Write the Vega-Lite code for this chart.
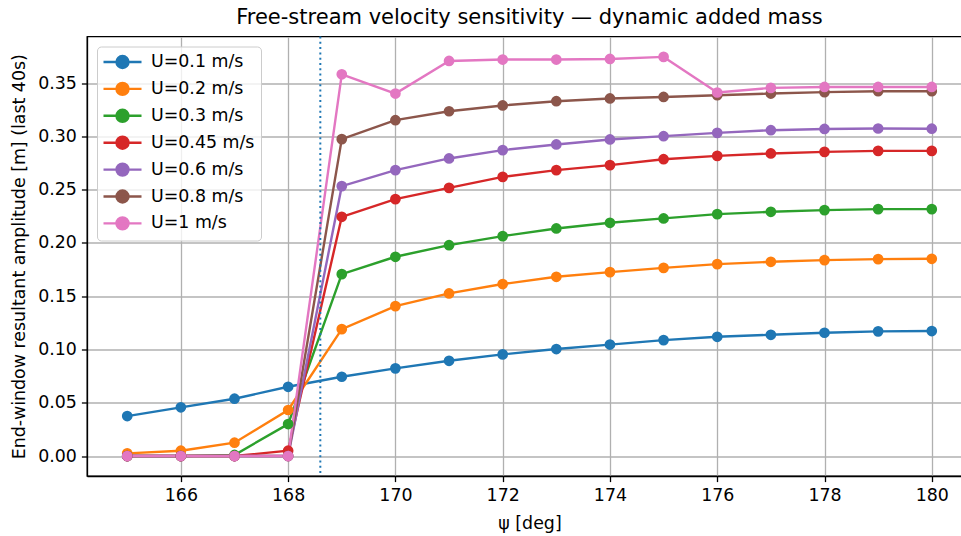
{
  "$schema": "https://vega.github.io/schema/vega-lite/v6.json",
  "autosize": "none",
  "width": 885,
  "height": 439.5,
  "padding": {"left": 87, "top": 36.5, "right": 0, "bottom": 60},
  "background": "white",
  "config": {
    "font": "DejaVu Sans",
    "view": {"stroke": "black", "strokeWidth": 1.3},
    "axis": {
      "labelFont": "DejaVu Sans", "titleFont": "DejaVu Sans",
      "labelFontSize": 17.4, "titleFontSize": 17.4,
      "labelColor": "black", "titleColor": "black", "titleFontWeight": "normal",
      "tickColor": "black", "domainColor": "black", "domainWidth": 1.3, "tickWidth": 1.3,
      "tickSize": 5.6, "labelPadding": 5,
      "gridColor": "#b0b0b0", "gridWidth": 1.3
    }
  },
  "title": {
    "text": "Free-stream velocity sensitivity — dynamic added mass",
    "fontSize": 21, "fontWeight": "normal", "font": "DejaVu Sans", "color": "black",
    "anchor": "middle", "baseline": "alphabetic", "offset": 12, "dy": 21, "frame": "group"
  },
  "data": {
    "values": [
      {"U": "U=0.1 m/s", "k": 1, "psi": 165, "amp": 0.0375},
      {"U": "U=0.1 m/s", "k": 1, "psi": 166, "amp": 0.0457},
      {"U": "U=0.1 m/s", "k": 1, "psi": 167, "amp": 0.0538},
      {"U": "U=0.1 m/s", "k": 1, "psi": 168, "amp": 0.065},
      {"U": "U=0.1 m/s", "k": 1, "psi": 169, "amp": 0.0744},
      {"U": "U=0.1 m/s", "k": 1, "psi": 170, "amp": 0.0823},
      {"U": "U=0.1 m/s", "k": 1, "psi": 171, "amp": 0.0894},
      {"U": "U=0.1 m/s", "k": 1, "psi": 172, "amp": 0.0954},
      {"U": "U=0.1 m/s", "k": 1, "psi": 173, "amp": 0.1004},
      {"U": "U=0.1 m/s", "k": 1, "psi": 174, "amp": 0.1046},
      {"U": "U=0.1 m/s", "k": 1, "psi": 175, "amp": 0.1088},
      {"U": "U=0.1 m/s", "k": 1, "psi": 176, "amp": 0.1119},
      {"U": "U=0.1 m/s", "k": 1, "psi": 177, "amp": 0.1138},
      {"U": "U=0.1 m/s", "k": 1, "psi": 178, "amp": 0.1157},
      {"U": "U=0.1 m/s", "k": 1, "psi": 179, "amp": 0.117},
      {"U": "U=0.1 m/s", "k": 1, "psi": 180, "amp": 0.1173},
      {"U": "U=0.2 m/s", "k": 2, "psi": 165, "amp": 0.0025},
      {"U": "U=0.2 m/s", "k": 2, "psi": 166, "amp": 0.005},
      {"U": "U=0.2 m/s", "k": 2, "psi": 167, "amp": 0.0125},
      {"U": "U=0.2 m/s", "k": 2, "psi": 168, "amp": 0.0432},
      {"U": "U=0.2 m/s", "k": 2, "psi": 169, "amp": 0.1191},
      {"U": "U=0.2 m/s", "k": 2, "psi": 170, "amp": 0.1407},
      {"U": "U=0.2 m/s", "k": 2, "psi": 171, "amp": 0.1526},
      {"U": "U=0.2 m/s", "k": 2, "psi": 172, "amp": 0.1614},
      {"U": "U=0.2 m/s", "k": 2, "psi": 173, "amp": 0.1682},
      {"U": "U=0.2 m/s", "k": 2, "psi": 174, "amp": 0.1726},
      {"U": "U=0.2 m/s", "k": 2, "psi": 175, "amp": 0.1766},
      {"U": "U=0.2 m/s", "k": 2, "psi": 176, "amp": 0.1801},
      {"U": "U=0.2 m/s", "k": 2, "psi": 177, "amp": 0.1823},
      {"U": "U=0.2 m/s", "k": 2, "psi": 178, "amp": 0.1839},
      {"U": "U=0.2 m/s", "k": 2, "psi": 179, "amp": 0.1848},
      {"U": "U=0.2 m/s", "k": 2, "psi": 180, "amp": 0.1851},
      {"U": "U=0.3 m/s", "k": 3, "psi": 165, "amp": 0.0},
      {"U": "U=0.3 m/s", "k": 3, "psi": 166, "amp": 0.0},
      {"U": "U=0.3 m/s", "k": 3, "psi": 167, "amp": 0.001},
      {"U": "U=0.3 m/s", "k": 3, "psi": 168, "amp": 0.030},
      {"U": "U=0.3 m/s", "k": 3, "psi": 169, "amp": 0.1707},
      {"U": "U=0.3 m/s", "k": 3, "psi": 170, "amp": 0.187},
      {"U": "U=0.3 m/s", "k": 3, "psi": 171, "amp": 0.1979},
      {"U": "U=0.3 m/s", "k": 3, "psi": 172, "amp": 0.2064},
      {"U": "U=0.3 m/s", "k": 3, "psi": 173, "amp": 0.2136},
      {"U": "U=0.3 m/s", "k": 3, "psi": 174, "amp": 0.2189},
      {"U": "U=0.3 m/s", "k": 3, "psi": 175, "amp": 0.223},
      {"U": "U=0.3 m/s", "k": 3, "psi": 176, "amp": 0.227},
      {"U": "U=0.3 m/s", "k": 3, "psi": 177, "amp": 0.2292},
      {"U": "U=0.3 m/s", "k": 3, "psi": 178, "amp": 0.2308},
      {"U": "U=0.3 m/s", "k": 3, "psi": 179, "amp": 0.2317},
      {"U": "U=0.3 m/s", "k": 3, "psi": 180, "amp": 0.2317},
      {"U": "U=0.45 m/s", "k": 4, "psi": 165, "amp": 0.0},
      {"U": "U=0.45 m/s", "k": 4, "psi": 166, "amp": 0.0},
      {"U": "U=0.45 m/s", "k": 4, "psi": 167, "amp": 0.0},
      {"U": "U=0.45 m/s", "k": 4, "psi": 168, "amp": 0.005},
      {"U": "U=0.45 m/s", "k": 4, "psi": 169, "amp": 0.2245},
      {"U": "U=0.45 m/s", "k": 4, "psi": 170, "amp": 0.2411},
      {"U": "U=0.45 m/s", "k": 4, "psi": 171, "amp": 0.2517},
      {"U": "U=0.45 m/s", "k": 4, "psi": 172, "amp": 0.262},
      {"U": "U=0.45 m/s", "k": 4, "psi": 173, "amp": 0.2683},
      {"U": "U=0.45 m/s", "k": 4, "psi": 174, "amp": 0.273},
      {"U": "U=0.45 m/s", "k": 4, "psi": 175, "amp": 0.2786},
      {"U": "U=0.45 m/s", "k": 4, "psi": 176, "amp": 0.2817},
      {"U": "U=0.45 m/s", "k": 4, "psi": 177, "amp": 0.284},
      {"U": "U=0.45 m/s", "k": 4, "psi": 178, "amp": 0.2855},
      {"U": "U=0.45 m/s", "k": 4, "psi": 179, "amp": 0.2864},
      {"U": "U=0.45 m/s", "k": 4, "psi": 180, "amp": 0.2864},
      {"U": "U=0.6 m/s", "k": 5, "psi": 165, "amp": 0.0},
      {"U": "U=0.6 m/s", "k": 5, "psi": 166, "amp": 0.0},
      {"U": "U=0.6 m/s", "k": 5, "psi": 167, "amp": 0.0},
      {"U": "U=0.6 m/s", "k": 5, "psi": 168, "amp": 0.0},
      {"U": "U=0.6 m/s", "k": 5, "psi": 169, "amp": 0.2533},
      {"U": "U=0.6 m/s", "k": 5, "psi": 170, "amp": 0.2683},
      {"U": "U=0.6 m/s", "k": 5, "psi": 171, "amp": 0.2793},
      {"U": "U=0.6 m/s", "k": 5, "psi": 172, "amp": 0.2871},
      {"U": "U=0.6 m/s", "k": 5, "psi": 173, "amp": 0.2924},
      {"U": "U=0.6 m/s", "k": 5, "psi": 174, "amp": 0.2971},
      {"U": "U=0.6 m/s", "k": 5, "psi": 175, "amp": 0.3002},
      {"U": "U=0.6 m/s", "k": 5, "psi": 176, "amp": 0.3033},
      {"U": "U=0.6 m/s", "k": 5, "psi": 177, "amp": 0.3058},
      {"U": "U=0.6 m/s", "k": 5, "psi": 178, "amp": 0.307},
      {"U": "U=0.6 m/s", "k": 5, "psi": 179, "amp": 0.3074},
      {"U": "U=0.6 m/s", "k": 5, "psi": 180, "amp": 0.3072},
      {"U": "U=0.8 m/s", "k": 6, "psi": 165, "amp": 0.0},
      {"U": "U=0.8 m/s", "k": 6, "psi": 166, "amp": 0.0},
      {"U": "U=0.8 m/s", "k": 6, "psi": 167, "amp": 0.0},
      {"U": "U=0.8 m/s", "k": 6, "psi": 168, "amp": 0.0},
      {"U": "U=0.8 m/s", "k": 6, "psi": 169, "amp": 0.2974},
      {"U": "U=0.8 m/s", "k": 6, "psi": 170, "amp": 0.3152},
      {"U": "U=0.8 m/s", "k": 6, "psi": 171, "amp": 0.3236},
      {"U": "U=0.8 m/s", "k": 6, "psi": 172, "amp": 0.329},
      {"U": "U=0.8 m/s", "k": 6, "psi": 173, "amp": 0.333},
      {"U": "U=0.8 m/s", "k": 6, "psi": 174, "amp": 0.3356},
      {"U": "U=0.8 m/s", "k": 6, "psi": 175, "amp": 0.337},
      {"U": "U=0.8 m/s", "k": 6, "psi": 176, "amp": 0.3386},
      {"U": "U=0.8 m/s", "k": 6, "psi": 177, "amp": 0.3402},
      {"U": "U=0.8 m/s", "k": 6, "psi": 178, "amp": 0.3415},
      {"U": "U=0.8 m/s", "k": 6, "psi": 179, "amp": 0.3424},
      {"U": "U=0.8 m/s", "k": 6, "psi": 180, "amp": 0.3424},
      {"U": "U=1 m/s", "k": 7, "psi": 165, "amp": 0.0},
      {"U": "U=1 m/s", "k": 7, "psi": 166, "amp": 0.0},
      {"U": "U=1 m/s", "k": 7, "psi": 167, "amp": 0.0},
      {"U": "U=1 m/s", "k": 7, "psi": 168, "amp": 0.0},
      {"U": "U=1 m/s", "k": 7, "psi": 169, "amp": 0.3583},
      {"U": "U=1 m/s", "k": 7, "psi": 170, "amp": 0.3402},
      {"U": "U=1 m/s", "k": 7, "psi": 171, "amp": 0.3708},
      {"U": "U=1 m/s", "k": 7, "psi": 172, "amp": 0.3721},
      {"U": "U=1 m/s", "k": 7, "psi": 173, "amp": 0.3721},
      {"U": "U=1 m/s", "k": 7, "psi": 174, "amp": 0.3727},
      {"U": "U=1 m/s", "k": 7, "psi": 175, "amp": 0.3746},
      {"U": "U=1 m/s", "k": 7, "psi": 176, "amp": 0.3412},
      {"U": "U=1 m/s", "k": 7, "psi": 177, "amp": 0.3455},
      {"U": "U=1 m/s", "k": 7, "psi": 178, "amp": 0.3464},
      {"U": "U=1 m/s", "k": 7, "psi": 179, "amp": 0.3464},
      {"U": "U=1 m/s", "k": 7, "psi": 180, "amp": 0.3464}
    ]
  },
  "layer": [
    {
      "mark": {"type": "line", "strokeWidth": 2.4, "point": {"size": 115, "filled": true, "opacity": 1}},
      "encoding": {
        "x": {
          "field": "psi", "type": "quantitative",
          "scale": {"domain": [164.25, 180.75], "nice": false, "zero": false},
          "axis": {"title": "ψ [deg]", "values": [166, 168, 170, 172, 174, 176, 178, 180], "titlePadding": 10, "grid": true}
        },
        "y": {
          "field": "amp", "type": "quantitative",
          "scale": {"domain": [-0.01875, 0.39375], "nice": false, "zero": false},
          "axis": {"title": "End-window resultant amplitude [m] (last 40s)", "values": [0, 0.05, 0.1, 0.15, 0.2, 0.25, 0.3, 0.35], "format": ".2f", "titlePadding": 9, "grid": true}
        },
        "color": {
          "field": "U", "type": "nominal",
          "sort": ["U=0.1 m/s", "U=0.2 m/s", "U=0.3 m/s", "U=0.45 m/s", "U=0.6 m/s", "U=0.8 m/s", "U=1 m/s"],
          "scale": {"range": ["#1f77b4", "#ff7f0e", "#2ca02c", "#d62728", "#9467bd", "#8c564b", "#e377c2"]},
          "legend": {
            "title": null, "orient": "none", "legendX": 10, "legendY": 10,
            "fillColor": "rgba(255,255,255,0.8)", "strokeColor": "#cccccc", "cornerRadius": 4,
            "padding": 6,
            "symbolType": "M-2.375,0H2.375M0.75,0A0.75,0.75,0,1,1,-0.75,0A0.75,0.75,0,1,1,0.75,0",
            "symbolSize": 256, "symbolStrokeWidth": 2.4, "symbolOffset": 10,
            "labelOffset": 19, "labelFontSize": 17.4, "labelFont": "DejaVu Sans", "labelColor": "black",
            "rowPadding": 3.9, "labelLimit": 300
          }
        },
        "order": {"field": "k", "type": "quantitative"}
      }
    },
    {
      "data": {"values": [{"psi": 168.6}]},
      "mark": {"type": "rule", "color": "#1f77b4", "strokeWidth": 2, "strokeDash": [2, 3.3]},
      "encoding": {"x": {"field": "psi", "type": "quantitative"}}
    }
  ]
}
